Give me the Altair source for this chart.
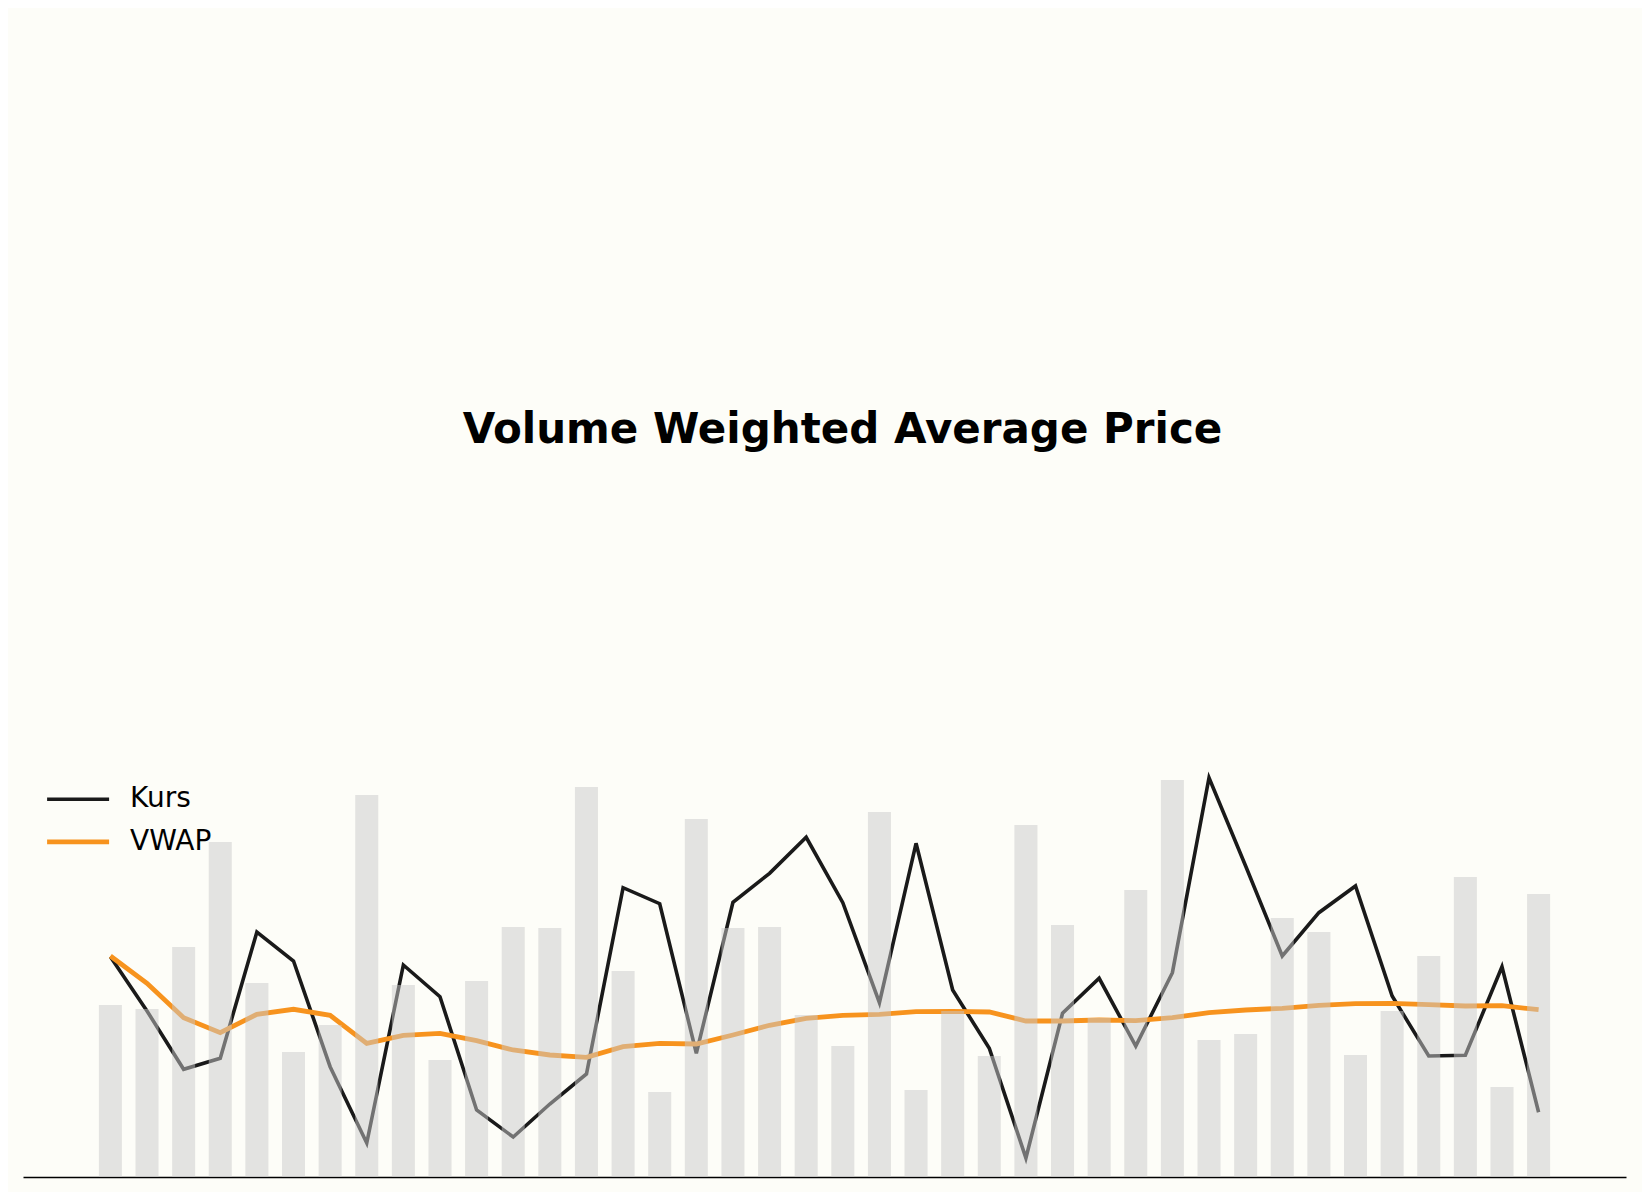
import altair as alt
import pandas as pd

# --- data ---
tage = list(range(40))

kurs = [104.33, 98.9, 93.07, 94.17, 106.8, 103.9, 93.33, 85.7, 103.5, 100.33,
        89.0, 86.3, 89.6, 92.6, 111.23, 109.63, 94.67, 109.77, 112.67, 116.27,
        109.73, 99.73, 115.67, 101.0, 95.17, 84.2, 98.67, 102.17, 95.4, 102.73,
        122.23, 113.4, 104.4, 108.73, 111.4, 100.4, 94.4, 94.47, 103.33, 88.77]

vwap = [104.4, 101.67, 98.23, 96.73, 98.57, 99.07, 98.47, 95.67, 96.47, 96.67,
        95.93, 95.0, 94.5, 94.27, 95.33, 95.67, 95.6, 96.5, 97.47, 98.17,
        98.47, 98.57, 98.83, 98.87, 98.8, 97.9, 97.9, 98.0, 97.93, 98.23,
        98.73, 99.0, 99.17, 99.47, 99.63, 99.67, 99.53, 99.4, 99.43, 99.03]

volumen = [172, 168, 230, 335, 194, 125, 152, 382, 192, 117,
           196, 250, 249, 390, 206, 85, 358, 249, 250, 162,
           131, 365, 87, 166, 121, 352, 252, 159, 287, 397,
           137, 143, 259, 245, 122, 166, 221, 300, 90, 283]

serien = ["Kurs", "VWAP"]
farben = ["#1a1a1a", "#f7931e"]
breiten = [3.6, 4.8]

bars_df = pd.DataFrame({"Tag": tage, "Volumen": volumen})
lines_df = pd.DataFrame({
    "Tag": tage + tage,
    "Preis": kurs + vwap,
    "Serie": ["Kurs"] * len(kurs) + ["VWAP"] * len(vwap),
})

x_scale = alt.Scale(domain=[-2.25, 41.25], nice=False, zero=False)
x_axis = alt.Axis(domain=True, domainColor="#000000", domainWidth=1.6,
                  ticks=False, labels=False, grid=False, title=None)

lines = alt.Chart(lines_df).mark_line().encode(
    x=alt.X("Tag:Q", scale=x_scale, axis=x_axis),
    y=alt.Y("Preis:Q", scale=alt.Scale(domain=[82.3, 153.0], nice=False, zero=False), axis=None),
    color=alt.Color(
        "Serie:N",
        scale=alt.Scale(domain=serien, range=farben),
        legend=alt.Legend(
            title=None, orient="none", legendX=37.1, legendY=311.8,
            symbolType="M-2,0H2", symbolSize=961, symbolStrokeWidth=3.7,
            labelFont="DejaVu Sans", labelFontSize=28, labelColor="#000000",
            labelOffset=33.9, rowPadding=10, padding=0, direction="vertical",
        ),
    ),
    strokeWidth=alt.StrokeWidth("Serie:N", scale=alt.Scale(domain=serien, range=breiten), legend=None),
    order=alt.Order("Tag:Q"),
)

bars = alt.Chart(bars_df).mark_bar(size=23, color="#cacaca", opacity=0.5).encode(
    x=alt.X("Tag:Q", scale=x_scale, axis=x_axis),
    y=alt.Y("Volumen:Q", scale=alt.Scale(domain=[0, 707], nice=False, zero=True), axis=None),
)

chart = alt.layer(lines, bars).resolve_scale(y="independent").properties(
    width=1603,
    height=707,
    autosize=alt.AutoSizeParams(type="none"),
    padding={"left": 15, "top": 462, "right": 16, "bottom": 15},
    background="#fdfdf8",
    title=alt.Title(
        "Volume Weighted Average Price",
        font="DejaVu Sans", fontSize=42, fontWeight="bold", color="#000000",
        anchor="middle", offset=28, baseline="alphabetic", dx=18, dy=43,
    ),
).configure_view(stroke=None)

chart.save("out.html", embed_options={"renderer": "svg", "actions": False})
